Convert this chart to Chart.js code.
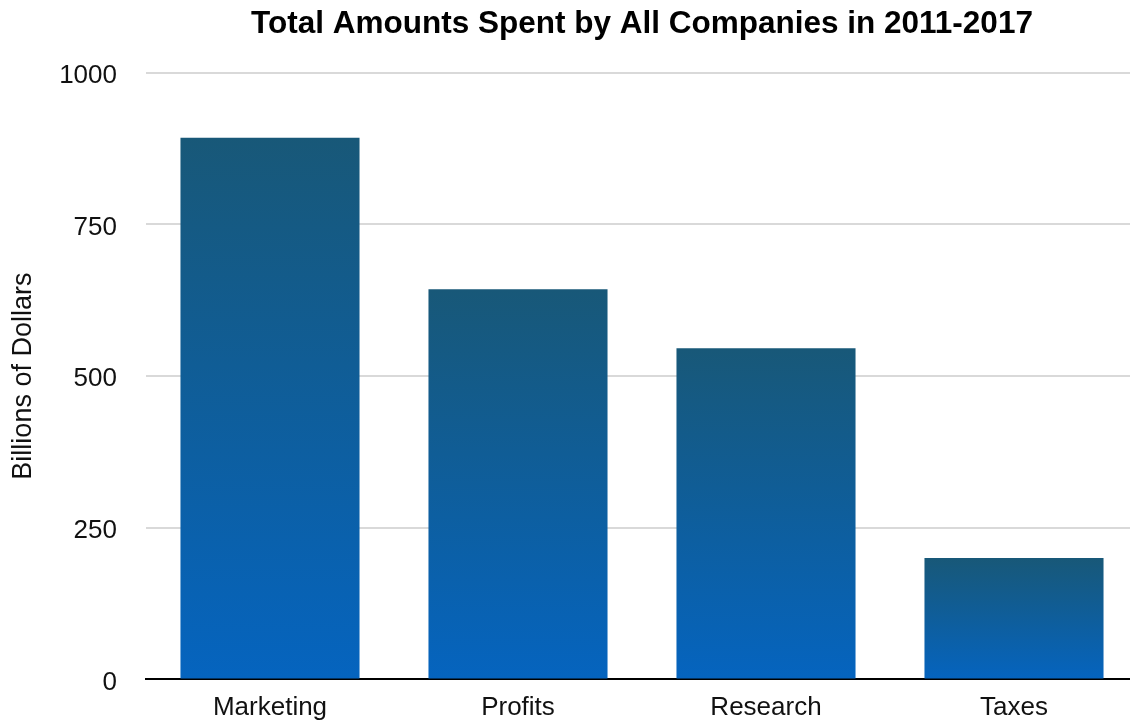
<!DOCTYPE html>
<html>
<head>
<meta charset="utf-8">
<script src="https://cdn.jsdelivr.net/npm/chart.js@4.4.1/dist/chart.umd.min.js"></script>
<style>
  html, body { margin: 0; padding: 0; background: #fff; overflow: hidden; }
  #chart { display: block; }
</style>
</head>
<body>
<canvas id="chart" width="1138" height="724"></canvas>
<script>
// spending totals, billions of dollars
const categories = ["Marketing", "Profits", "Research", "Taxes"];
const amounts = [893, 643, 546, 200];
const yTicks = [0, 250, 500, 750, 1000];

const BAR_TOP = "#185878";
const BAR_BOTTOM = "#0564bf";
const FONT = "'Liberation Sans', Arial, Helvetica, sans-serif";

// each bar gets its own top-to-bottom gradient
function barGradient(ctx) {
    const chart = ctx.chart;
    const y = chart.scales.y;
    if (!chart.chartArea || !y || ctx.raw == null) return BAR_BOTTOM;
    const top = y.getPixelForValue(ctx.raw);
    const bottom = y.getPixelForValue(0);
    const g = chart.ctx.createLinearGradient(0, top, 0, bottom);
    g.addColorStop(0, BAR_TOP);
    g.addColorStop(1, BAR_BOTTOM);
    return g;
}

new Chart(document.getElementById("chart"), {
    type: "bar",
    data: {
        labels: categories,
        datasets: [{
            data: amounts,
            backgroundColor: barGradient,
            borderWidth: 0,
            categoryPercentage: 1,
            barPercentage: 0.722
        }]
    },
    options: {
        responsive: false,
        animation: false,
        layout: { padding: 0 },
        plugins: {
            legend: { display: false },
            tooltip: { enabled: false },
            title: {
                display: true,
                fullSize: false,
                text: "Total Amounts Spent by All Companies in 2011-2017",
                color: "#000",
                font: { family: FONT, size: 31.5, weight: "bold", lineHeight: 1.2 },
                padding: { top: 5, bottom: 30 }
            }
        },
        scales: {
            x: {
                grid: { display: false, drawTicks: false },
                border: { display: true, color: "#000", width: 2 },
                ticks: {
                    color: "#111",
                    padding: 13,
                    font: { family: FONT, size: 26 }
                },
                afterFit: s => { s.height = 43; }
            },
            y: {
                min: 0,
                max: 1000,
                afterBuildTicks: s => { s.ticks = yTicks.map(v => ({ value: v })); },
                grid: { color: "#d9d9d9", lineWidth: 2, drawTicks: false },
                border: { display: false },
                ticks: {
                    color: "#111",
                    padding: 29,
                    labelOffset: 3,
                    font: { family: FONT, size: 26 },
                    callback: v => String(v)
                },
                title: {
                    display: true,
                    text: "Billions of Dollars",
                    color: "#111",
                    font: { family: FONT, size: 27 },
                    padding: { top: 7, bottom: 0 }
                },
                afterFit: s => { s.width = 146; }
            }
        }
    }
});
</script>
</body>
</html>
